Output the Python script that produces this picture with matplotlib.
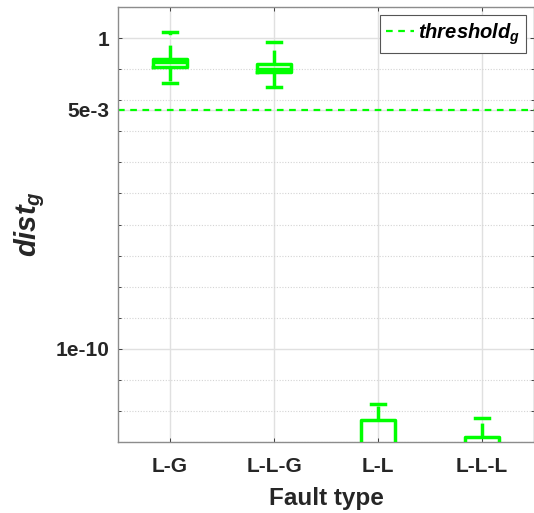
import matplotlib
matplotlib.use('Agg')
import matplotlib.pyplot as plt
from matplotlib.ticker import FixedLocator, LogLocator, NullFormatter

plt.rcParams['font.family'] = ['Liberation Sans', 'DejaVu Sans']
plt.rcParams['mathtext.fontset'] = 'custom'
plt.rcParams['mathtext.rm'] = 'Liberation Sans:bold'
plt.rcParams['mathtext.it'] = 'Liberation Sans:bold:italic'

# data (box plot statistics per fault type)
fault_types = ['L-G', 'L-L-G', 'L-L', 'L-L-L']
whisker_low = [0.0355, 0.026, 3e-15, 1e-14]
q1 = [0.12, 0.081, 3e-14, 3e-14]
median = [0.174, 0.10, 5e-14, 5e-14]
q3 = [0.219, 0.151, 5.2e-13, 1.4e-13]
whisker_high = [1.55, 0.74, 1.7e-12, 6e-13]
threshold = 5e-3
ytick_vals = [1e-10, 5e-3, 1]
ytick_labels = ['1e-10', '5e-3', '1']

green = '#00ff00'

stats = []
for i, name in enumerate(fault_types):
    stats.append({'label': name, 'whislo': whisker_low[i], 'q1': q1[i],
                  'med': median[i], 'q3': q3[i], 'whishi': whisker_high[i],
                  'fliers': []})

fig = plt.figure(figsize=(5.34, 5.13), dpi=100)
ax = fig.add_axes([118 / 534, 71 / 513, 416 / 534, 435 / 513])

ax.set_yscale('log')
ax.set_ylim(1e-13, 10)
ax.set_xlim(0.5, 4.5)

ax.bxp(stats, positions=range(1, 5), widths=0.33, showfliers=False,
       boxprops=dict(color=green, linewidth=2.5),
       medianprops=dict(color=green, linewidth=2.5),
       whiskerprops=dict(color=green, linewidth=2.5, linestyle=(0, (4, 3))),
       capprops=dict(color=green, linewidth=2.5),
       capwidths=0.14, zorder=3)

ax.axhline(threshold, color=green, linestyle=(0, (3, 2.5)), linewidth=1.6,
           label='$threshold_g$', zorder=2)

ax.yaxis.set_major_locator(FixedLocator(ytick_vals))
ax.set_yticklabels(ytick_labels)
ax.yaxis.set_minor_locator(LogLocator(base=10, subs=[1.0], numticks=30))
ax.yaxis.set_minor_formatter(NullFormatter())
ax.set_xticks(range(1, 5))
ax.set_xticklabels(fault_types)

ax.grid(True, which='major', color='#e0e0e0', linewidth=1.0, linestyle='-')
ax.grid(True, which='minor', axis='y', color='#d4d4d4', linewidth=0.8,
        linestyle=(0, (1, 1.5)))
ax.set_axisbelow(True)

ax.tick_params(axis='both', which='both', direction='in', colors='#262626',
               labelsize=15, width=0.6, right=True, top=True)
ax.tick_params(which='major', length=3)
ax.tick_params(which='minor', length=2)
ax.tick_params(axis='x', pad=11)
ax.tick_params(axis='y', pad=6)
for lab in ax.get_xticklabels() + ax.get_yticklabels():
    lab.set_fontweight('bold')
for s in ax.spines.values():
    s.set_color('#8c8c8c')
    s.set_linewidth(1.0)

ax.set_xlabel('Fault type', fontsize=17.5, fontweight='bold', color='#262626',
              labelpad=8)
ax.set_ylabel('$dist_g$', fontsize=21, color='#262626')
ax.yaxis.set_label_coords(-0.17, 0.5)

leg = ax.legend(loc='upper right', fontsize=14.5, handlelength=1.4,
                handletextpad=0.2, borderpad=0.3, fancybox=False,
                framealpha=1, edgecolor='#555555', borderaxespad=0.4)
leg.get_frame().set_linewidth(0.8)

fig.savefig('out.png', dpi=100)
